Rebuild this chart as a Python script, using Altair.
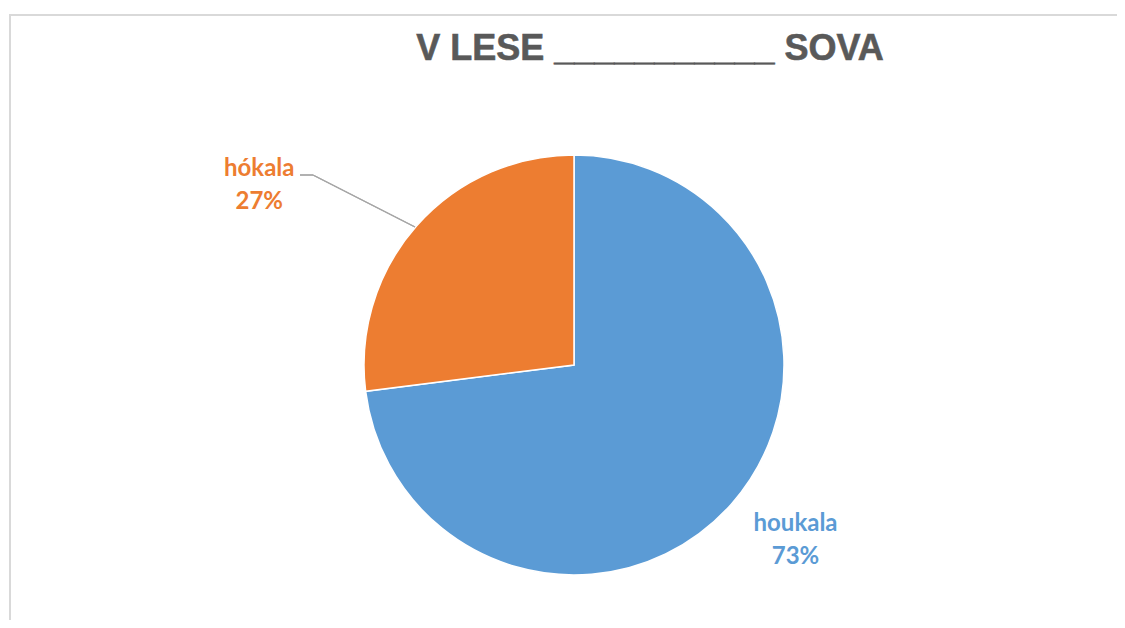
import altair as alt
import pandas as pd

categories = ["houkala", "hókala"]
values = [73, 27]
colors = ["#5B9BD5", "#ED7D31"]
title_text = "V LESE ___________ SOVA"

df = pd.DataFrame({"cat": categories, "val": values, "order": [0, 1]})
df["pct"] = df["val"].map(lambda v: f"{v}%")
df["label"] = df["cat"] + "\n" + df["pct"]

W, H = 1109, 612
CX, CY, R = 566, 357, 210
FONT = "Lato"
TOTAL = sum(values)

color_scale = alt.Scale(domain=categories, range=colors)
theta_scale = alt.Scale(domain=[0, TOTAL])

pie = alt.Chart(df).mark_arc(radius=R, stroke="white", strokeWidth=1.5).encode(
    theta=alt.Theta("val:Q", stack=True, scale=theta_scale),
    order=alt.Order("order:Q"),
    x=alt.value(CX), y=alt.value(CY),
    color=alt.Color("cat:N", scale=color_scale, legend=None),
)

lab_base = alt.Chart(df).transform_window(
    cum="sum(val)", sort=[alt.SortField("order")]
).transform_calculate(mid="datum.cum - datum.val / 2")


def label_layer(cat, radius, dx, dy):
    return lab_base.transform_filter(alt.datum.cat == cat).mark_text(
        radius=radius, font=FONT, fontWeight="bold", fontSize=24,
        lineBreak="\n", lineHeight=33, align="center", baseline="middle",
        dx=dx, dy=dy
    ).encode(
        theta=alt.Theta("mid:Q", scale=theta_scale),
        x=alt.value(CX), y=alt.value(CY),
        text="label:N",
        color=alt.Color("cat:N", scale=color_scale, legend=None),
    )


lab_blue = label_layer("houkala", 282, 10, -27)
lab_orange = label_layer("hókala", 361, -44, 43)

leader1 = alt.Chart(df).mark_rule(color="#A6A6A6", strokeWidth=1.3).encode(
    x=alt.value(292), x2=alt.value(305), y=alt.value(167), y2=alt.value(167)
)
leader2 = alt.Chart(df).mark_rule(color="#A6A6A6", strokeWidth=1.3).encode(
    x=alt.value(305), x2=alt.value(407), y=alt.value(167), y2=alt.value(219)
)

border_top = alt.Chart(df).mark_rule(color="#D9D9D9", strokeWidth=2).encode(
    x=alt.value(1), x2=alt.value(W), y=alt.value(7), y2=alt.value(7)
)
border_left = alt.Chart(df).mark_rule(color="#D9D9D9", strokeWidth=2).encode(
    x=alt.value(2), x2=alt.value(2), y=alt.value(7), y2=alt.value(H)
)

title = alt.Chart(pd.DataFrame({"t": [title_text]})).mark_text(
    font="Liberation Sans", fontWeight="bold", fontSize=36, color="#595959",
    stroke="#595959", strokeWidth=0.6,
    align="center", baseline="alphabetic"
).encode(x=alt.value(642), y=alt.value(52), text="t:N")

chart = alt.layer(
    border_top, border_left, pie, leader1, leader2, lab_blue, lab_orange, title
).properties(
    width=W, height=H, padding=0, background="white",
    autosize=alt.AutoSizeParams(type="none")
).configure_view(stroke=None)

chart.save("out.html", embed_options={"renderer": "svg", "actions": False})
